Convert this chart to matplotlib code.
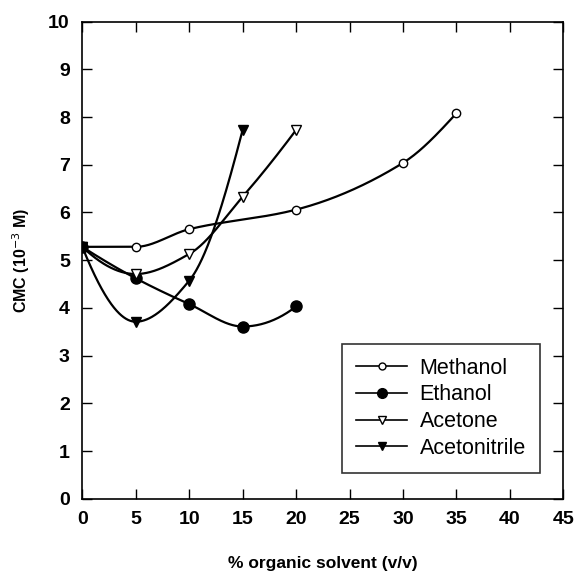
import numpy as np
import matplotlib
matplotlib.use("Agg")
import matplotlib.pyplot as plt

# Data
methanol_x = [0, 5, 10, 20, 30, 35]
methanol_y = [5.28, 5.28, 5.65, 6.06, 7.04, 8.08]
ethanol_x = [0, 5, 10, 15, 20]
ethanol_y = [5.28, 4.62, 4.08, 3.61, 4.03]
acetone_x = [0, 5, 10, 15, 20]
acetone_y = [5.28, 4.71, 5.13, 6.33, 7.73]
acetonitrile_x = [0, 5, 10, 15]
acetonitrile_y = [5.28, 3.71, 4.57, 7.73]

x_ticks = [0, 5, 10, 15, 20, 25, 30, 35, 40, 45]
y_ticks = [0, 1, 2, 3, 4, 5, 6, 7, 8, 9, 10]


def pchip(x, y, n=300):
    x = np.asarray(x, float)
    y = np.asarray(y, float)
    h = np.diff(x)
    delta = np.diff(y) / h
    k = len(x)
    m = np.zeros(k)
    for i in range(1, k - 1):
        if delta[i - 1] * delta[i] > 0:
            w1 = 2 * h[i] + h[i - 1]
            w2 = h[i] + 2 * h[i - 1]
            m[i] = (w1 + w2) / (w1 / delta[i - 1] + w2 / delta[i])
        else:
            m[i] = 0.0

    def end(h0, h1, d0, d1):
        d = ((2 * h0 + h1) * d0 - h0 * d1) / (h0 + h1)
        if np.sign(d) != np.sign(d0):
            d = 0.0
        elif np.sign(d0) != np.sign(d1) and abs(d) > abs(3 * d0):
            d = 3 * d0
        return d

    if k > 2:
        m[0] = end(h[0], h[1], delta[0], delta[1])
        m[-1] = end(h[-1], h[-2], delta[-1], delta[-2])
    else:
        m[:] = delta[0]
    xs = np.linspace(x[0], x[-1], n)
    idx = np.clip(np.searchsorted(x, xs, side="right") - 1, 0, k - 2)
    t = (xs - x[idx]) / h[idx]
    h00 = 2 * t ** 3 - 3 * t ** 2 + 1
    h10 = t ** 3 - 2 * t ** 2 + t
    h01 = -2 * t ** 3 + 3 * t ** 2
    h11 = t ** 3 - t ** 2
    ys = h00 * y[idx] + h10 * h[idx] * m[idx] + h01 * y[idx + 1] + h11 * h[idx] * m[idx + 1]
    return xs, ys


plt.rcParams['font.family'] = ['Liberation Sans', 'DejaVu Sans']
fig = plt.figure(figsize=(5.77, 5.72), dpi=100)
ax = fig.add_axes([82.3 / 577, 1 - 498.7 / 572, (563.3 - 82.3) / 577, (498.7 - 21.7) / 572])

series = [
    ("Methanol", methanol_x, methanol_y, dict(marker='o', mfc='white', ms=6)),
    ("Ethanol", ethanol_x, ethanol_y, dict(marker='o', mfc='black', ms=8)),
    ("Acetone", acetone_x, acetone_y, dict(marker='v', mfc='white', ms=7)),
    ("Acetonitrile", acetonitrile_x, acetonitrile_y, dict(marker='v', mfc='black', ms=7)),
]

handles = []
for name, xs, ys, st in series:
    sx, sy = pchip(xs, ys)
    ax.plot(sx, sy, color='black', lw=1.6, zorder=2)
    ax.plot(xs, ys, linestyle='none', marker=st['marker'], mfc=st['mfc'],
            mec='black', mew=1.0, ms=st['ms'], zorder=3)
    h, = ax.plot([], [], color='black', lw=1.2, marker=st['marker'], mfc=st['mfc'],
                 mec='black', mew=1.0, ms=st['ms'] - 1, label=name)
    handles.append(h)

ax.set_xlim(0, 45)
ax.set_ylim(0, 10)
ax.set_xticks(x_ticks)
ax.set_yticks(y_ticks)
ax.tick_params(direction='in', length=7, width=1, labelsize=14, pad=9,
               top=True, right=True)
for lab in ax.get_xticklabels() + ax.get_yticklabels():
    lab.set_fontweight('bold')
for s in ax.spines.values():
    s.set_linewidth(1.2)

ax.set_xlabel('% organic solvent (v/v)', fontsize=12.5, fontweight='bold', labelpad=20)
ax.set_ylabel('CMC (10$^{-3}$ M)', fontsize=11.5, fontweight='bold', labelpad=12)

leg = ax.legend(handles=handles, loc='lower right', bbox_to_anchor=(0.9515, 0.054),
                borderaxespad=0.0,
                fontsize=15.5, frameon=True, fancybox=False, edgecolor='black',
                handlelength=2.35, borderpad=0.65, labelspacing=0.27, handletextpad=0.6)
leg.get_frame().set_linewidth(1.2)

fig.savefig('out.png', dpi=100)
